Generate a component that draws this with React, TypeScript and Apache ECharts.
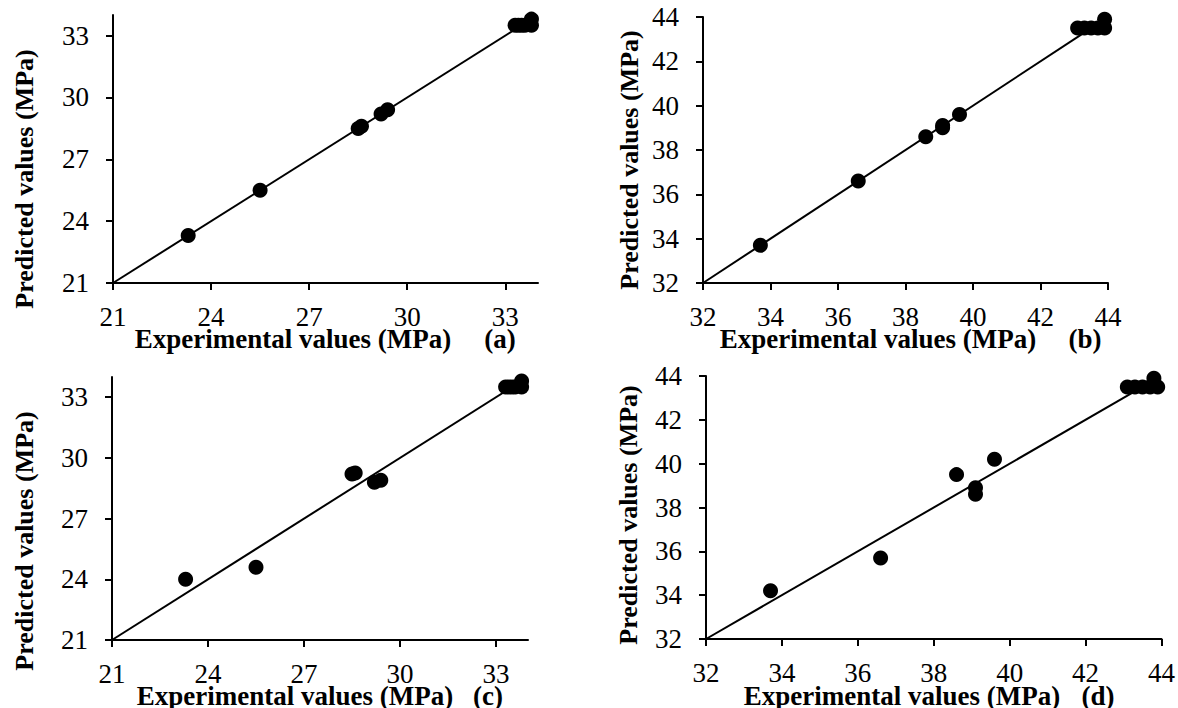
import React, { useEffect, useRef } from "react";
import * as echarts from "echarts";

// Panel (a): experimental vs predicted (model 1), range 21-34
const expA = [23.3, 25.5, 28.5, 28.6, 29.2, 29.4, 33.3, 33.4, 33.5, 33.6, 33.8, 33.8];
const predA = [23.3, 25.5, 28.5, 28.6, 29.2, 29.4, 33.5, 33.5, 33.5, 33.5, 33.5, 33.8];
// Panel (b): range 32-44
const expB = [33.7, 36.6, 38.6, 39.1, 39.1, 39.6, 43.1, 43.3, 43.5, 43.7, 43.9, 43.9];
const predB = [33.7, 36.6, 38.6, 39.1, 39.0, 39.6, 43.5, 43.5, 43.5, 43.5, 43.5, 43.9];
// Panel (c)
const expC = [23.3, 25.5, 28.5, 28.6, 29.2, 29.4, 33.3, 33.4, 33.5, 33.6, 33.8, 33.8];
const predC = [24.0, 24.6, 29.2, 29.25, 28.8, 28.9, 33.5, 33.5, 33.5, 33.5, 33.5, 33.8];
// Panel (d)
const expD = [33.7, 36.6, 38.6, 39.1, 39.1, 39.6, 43.1, 43.3, 43.5, 43.7, 43.9, 43.8];
const predD = [34.2, 35.7, 39.5, 38.9, 38.6, 40.2, 43.5, 43.5, 43.5, 43.5, 43.5, 43.9];

// 1:1 reference lines
const lineAC = [21, 33.5];
const lineBD = [32, 43.5];

const ticksAC = [21, 24, 27, 30, 33];
const ticksBD = [32, 34, 36, 38, 40, 42, 44];

const xTitle = "Experimental values (MPa)";
const yTitle = "Predicted values (MPa)";
const panelTags = ["(a)", "(b)", "(c)", "(d)"];

const FONT = '"Liberation Serif", "Times New Roman", serif';

export default function App() {
  const ref = useRef<HTMLDivElement>(null);
  useEffect(() => {
    if (!ref.current) return;
    const chart = echarts.init(ref.current, undefined, { renderer: "svg" });

    const grids = [
      { left: 113, top: 15, width: 425, height: 268 },
      { left: 703, top: 17, width: 405, height: 266 },
      { left: 112, top: 377, width: 416, height: 263 },
      { left: 706, top: 376, width: 456, height: 263 },
    ];
    const ranges = [
      [21, 34, ticksAC],
      [32, 44, ticksBD],
      [21, 34, ticksAC],
      [32, 44, ticksBD],
    ] as [number, number, number[]][];

    const axisCommon = (min: number, max: number, ticks: number[], isY: boolean) => ({
      type: "value",
      min,
      max,
      splitLine: { show: false },
      axisLine: { show: true, onZero: false, lineStyle: { color: "#000", width: 2 } },
      axisTick: {
        show: true,
        inside: false,
        length: 7,
        lineStyle: { color: "#000", width: 2 },
        customValues: ticks,
      },
      axisLabel: {
        color: "#000",
        fontFamily: FONT,
        fontSize: 27,
        margin: isY ? 24 : 20,
        customValues: ticks,
      },
    });

    const xAxis = ranges.map((r, i) => ({ ...axisCommon(r[0], r[1], r[2], false), gridIndex: i }));
    const yAxis = ranges.map((r, i) => ({ ...axisCommon(r[0], r[1], r[2], true), gridIndex: i }));

    const sets = [
      [expA, predA, lineAC],
      [expB, predB, lineBD],
      [expC, predC, lineAC],
      [expD, predD, lineBD],
    ];
    const series: any[] = [];
    sets.forEach(([ex, pr, ln], i) => {
      series.push({
        type: "line",
        xAxisIndex: i,
        yAxisIndex: i,
        data: ln.map((v) => [v, v]),
        showSymbol: false,
        lineStyle: { color: "#000", width: 2 },
        z: 2,
      });
      series.push({
        type: "scatter",
        xAxisIndex: i,
        yAxisIndex: i,
        data: ex.map((v, k) => [v, pr[k]]),
        symbol: "circle",
        symbolSize: 15,
        itemStyle: { color: "#000", opacity: 1 },
        z: 3,
      });
    });

    const mkText = (text: string, x: number, y: number, size: number, rot = 0) => ({
      type: "text",
      x,
      y,
      rotation: rot,
      style: {
        text,
        font: `bold ${size}px ${FONT}`,
        fill: "#000",
        textAlign: "center",
        textVerticalAlign: "middle",
        align: "center",
        verticalAlign: "middle",
      },
    });

    const xTitles = [
      [293, 339, 500],
      [878, 339, 1085],
      [295, 696, 488],
      [902, 696, 1098],
    ];
    const yTitles = [
      [24, 179],
      [629, 160],
      [24, 541],
      [628, 515],
    ];
    const graphic: any[] = [];
    xTitles.forEach(([cx, cy, tx], i) => {
      graphic.push(mkText(xTitle, cx, cy, 27));
      graphic.push(mkText(panelTags[i], tx, cy, 27));
    });
    yTitles.forEach(([cx, cy]) => {
      graphic.push(mkText(yTitle, cx, cy, 26, Math.PI / 2));
    });

    chart.setOption({
      animation: false,
      backgroundColor: "#fff",
      grid: grids,
      xAxis,
      yAxis,
      series,
      graphic,
    });
    return () => chart.dispose();
  }, []);
  return (
    <div
      ref={ref}
      style={{ position: "fixed", left: 0, top: 0, width: 1178, height: 708, background: "#fff" }}
    />
  );
}
